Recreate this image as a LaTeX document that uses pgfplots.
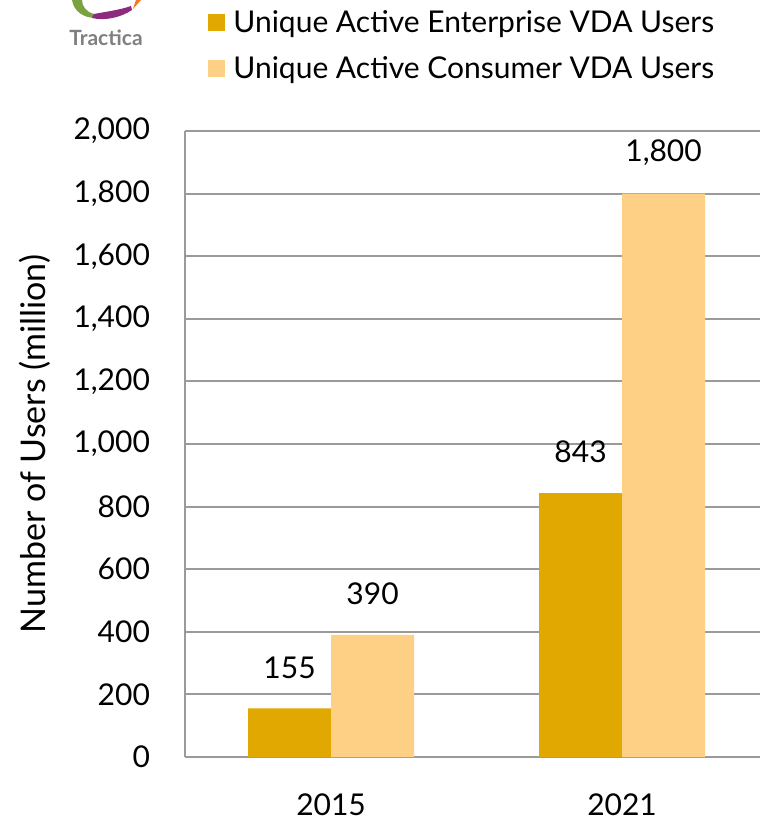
\documentclass[border=0pt]{standalone}
\usepackage{fontspec}
\setmainfont{Lato}
\usepackage{pgfplots}
\pgfplotsset{compat=1.18}
\definecolor{ent}{HTML}{E0A800}
\definecolor{con}{HTML}{FDD086}
\definecolor{gridc}{HTML}{9A9A9A}
\definecolor{lgreen}{HTML}{7AA23F}
\definecolor{lpurple}{HTML}{8E2A7E}
\definecolor{lorange}{HTML}{F07A22}
\begin{document}
\begin{tikzpicture}
\begin{axis}[
  at={(92.5pt,-378.5pt)}, anchor=south west,
  scale only axis, width=287.5pt, height=313pt,
  xmin=-0.502, xmax=1.474, ymin=0, ymax=2000,
  axis x line*=bottom, axis y line*=left,
  axis line style={gridc, line width=1pt},
  ymajorgrids, major grid style={gridc, line width=1pt},
  major tick length=0pt,
  ytick={0,200,...,2000},
  xtick={0,1}, xticklabels={2015,2021},
  tick label style={font=\fontsize{15}{18}\selectfont, text=black},
  yticklabel style={anchor=east, xshift=-14pt},
  xticklabel style={anchor=center, yshift=-24pt},
  /pgf/number format/1000 sep={,},
  /pgf/number format/assume math mode=true,
  ylabel={Number of Users (million)},
  ylabel style={at={(axis description cs:-0.261,0.5)}, anchor=center, font=\fontsize{17}{20}\selectfont},
  ybar, bar width=41.5pt,
  nodes near coords,
  every node near coord/.append style={anchor=center, yshift=20.5pt, font=\fontsize{15}{18}\selectfont, text=black},
  legend image code/.code={\fill[#1, draw=none] (0pt,-4.25pt) rectangle (8.5pt,4.25pt);},
  legend style={at={(axis description cs:0.04,1.197)}, anchor=north west, draw=none, fill=none,
    font=\fontsize{15}{18}\selectfont, inner sep=0pt, row sep=8.5pt,
    nodes={inner xsep=4pt, inner ysep=1pt}},
  legend cell align=left,
]
\addplot[fill=ent, draw=none, bar shift=-20.75pt] coordinates {(0,155) (1,843)};
\addlegendentry{Unique Active Enterprise VDA Users}
\addplot[fill=con, draw=none, bar shift=20.75pt] coordinates {(0,390) (1,1800)};
\addlegendentry{Unique Active Consumer VDA Users}
\end{axis}
% logo
\begin{scope}[x=1pt,y=1pt]
\fill[lgreen] (36,0) .. controls (37,-6) and (42,-9) .. (48,-9) -- (47,-7) .. controls (43,-6) and (41,-3) .. (41,0) -- cycle;
\fill[lpurple] (46,-9) .. controls (52,-10.5) and (60,-9) .. (66,-5) -- (65.5,-3) .. controls (60,-5) and (52,-6) .. (47,-7) -- cycle;
\fill[lorange] (66.5,-4.5) -- (68,0) -- (70.5,0) -- cycle;
\end{scope}
\node[text=gray, font=\bfseries\fontsize{10.5}{12}\selectfont] at (53pt,-19pt) {Tractica};
\pgfresetboundingbox
\path (0,0) rectangle (380pt,-411pt);
\end{tikzpicture}
\end{document}
